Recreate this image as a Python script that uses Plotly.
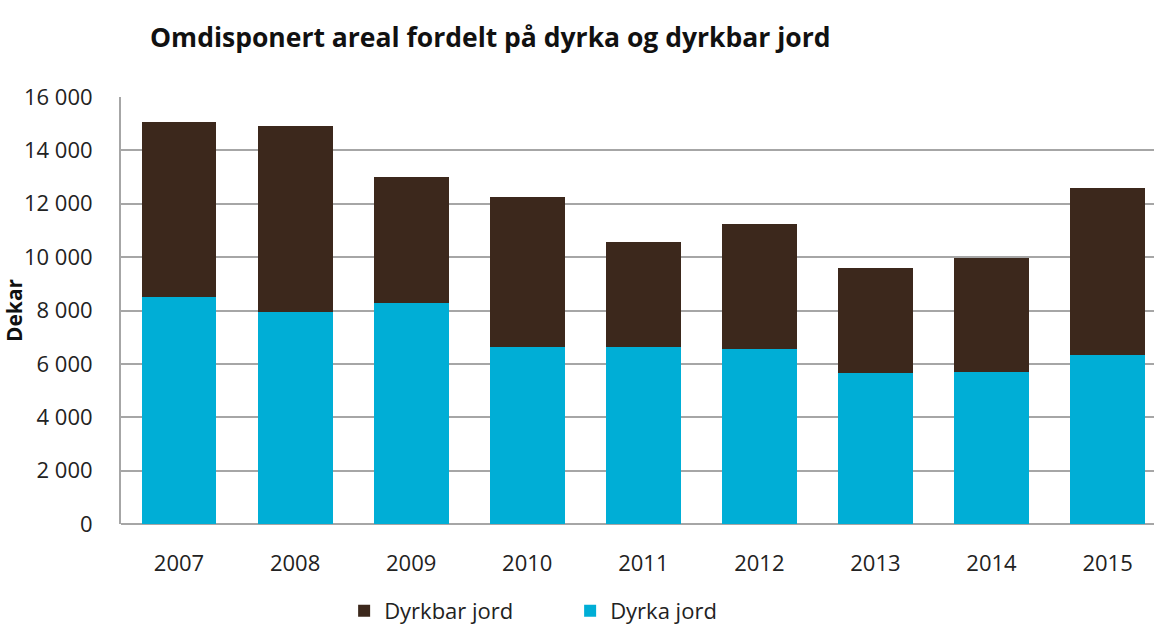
import plotly.graph_objects as go

years = ["2007", "2008", "2009", "2010", "2011", "2012", "2013", "2014", "2015"]
dyrka_jord = [8510, 7940, 8280, 6640, 6640, 6550, 5640, 5700, 6320]
dyrkbar_jord = [6570, 6970, 4720, 5630, 3920, 4700, 3970, 4260, 6280]
y_ticks = [0, 2000, 4000, 6000, 8000, 10000, 12000, 14000, 16000]
y_tick_labels = ["0", "2 000", "4 000", "6 000", "8 000", "10 000", "12 000", "14 000", "16 000"]

fig = go.Figure()
fig.add_trace(go.Bar(x=years, y=dyrka_jord, name="Dyrka jord",
                     marker=dict(color="#00AED6", line=dict(width=0))))
fig.add_trace(go.Bar(x=years, y=dyrkbar_jord, name="Dyrkbar jord",
                     marker=dict(color="#3C281C", line=dict(width=0))))

fig.update_layout(
    barmode="stack",
    bargap=0.355,
    width=1154, height=632,
    margin=dict(l=121, r=0, t=97, b=108, autoexpand=False),
    paper_bgcolor="white", plot_bgcolor="white",
    font=dict(family="Open Sans, sans-serif", color="#222222"),
    title=dict(text="<b>Omdisponert areal fordelt på dyrka og dyrkbar jord</b>",
               x=0.13, xanchor="left", y=0.94, yanchor="middle",
               font=dict(size=26.5, color="#111111")),
    legend=dict(orientation="h", x=0.216, xanchor="left",
                yref="container", y=0.0, yanchor="bottom",
                traceorder="reversed", font=dict(size=22, color="#222222"),
                itemwidth=30, entrywidth=181),
    xaxis=dict(type="category", range=[-0.5, 8.4], showline=False, ticks="",
               tickfont=dict(size=22, color="#222222"), ticklabelstandoff=24),
    yaxis=dict(range=[0, 16000], tickvals=y_ticks, ticktext=y_tick_labels,
               showgrid=True, gridcolor="#A6A6A6", gridwidth=2,
               showline=True, linecolor="#A6A6A6", linewidth=2,
               ticks="outside", ticklen=0, zeroline=True, zerolinecolor="#A6A6A6", zerolinewidth=2,
               tickfont=dict(size=22, color="#222222"), ticklabelstandoff=22,
               title=dict(text="<b>Dekar</b>", font=dict(size=21, color="#111111"), standoff=4)),
)
fig.write_html("out.html")
